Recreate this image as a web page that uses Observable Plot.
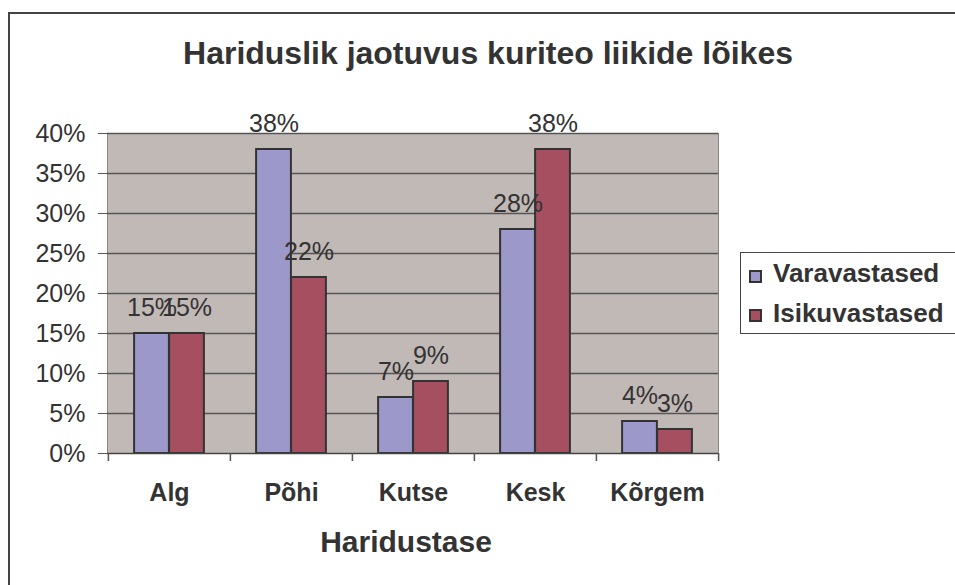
<!DOCTYPE html>
<html><head><meta charset="utf-8">
<script src="https://cdn.jsdelivr.net/npm/d3@7"></script>
<script src="https://cdn.jsdelivr.net/npm/@observablehq/plot@0.6"></script>
<style>
body{margin:0;background:#fff;font-family:"Liberation Sans",Arial,sans-serif;color:#333}
#wrap{position:relative;width:955px;height:585px;overflow:hidden}
#border{position:absolute;left:8px;top:12px;width:1000px;height:1000px;border:2px solid #444;box-sizing:border-box}
#title{position:absolute;left:0;top:37px;width:976px;text-align:center;font-weight:bold;font-size:32px;line-height:1}
#xlabel{position:absolute;left:0;top:527px;width:812px;text-align:center;font-weight:bold;font-size:30px;line-height:1}
#chart{position:absolute;left:0;top:0}
#legend{position:absolute;left:740px;top:252px;width:230px;height:82px;border:1px solid #444;box-sizing:border-box}
.sw{position:absolute;width:13px;height:13px;border:2px solid #333;box-sizing:border-box}
.lt{position:absolute;font-weight:bold;font-size:26px;line-height:1;white-space:nowrap}
</style></head>
<body>
<div id="wrap">
  <div id="border"></div>
  <div id="chart"></div>
  <div id="title">Hariduslik jaotuvus kuriteo liikide lõikes</div>
  <div id="xlabel">Haridustase</div>
  <div id="legend"></div>
</div>
<script>
const categories = ["Alg", "Põhi", "Kutse", "Kesk", "Kõrgem"];
const varavastased = [0.15, 0.38, 0.07, 0.28, 0.04];
const isikuvastased = [0.15, 0.22, 0.09, 0.38, 0.03];
const seriesNames = ["Varavastased", "Isikuvastased"];
const seriesColors = ["#9c98ca", "#a64f60"];
const yTicks = [0, 0.05, 0.10, 0.15, 0.20, 0.25, 0.30, 0.35, 0.40];

const fmt = d3.format(".0%");
const W = 955, H = 585, ML = 107, MR = 237, MT = 133, MB = 132;
const step = (W - ML - MR) / categories.length;
const barW = 35;

const dataV = categories.map((c, i) => ({cat: c, v: varavastased[i], s: seriesNames[0]}));
const dataI = categories.map((c, i) => ({cat: c, v: isikuvastased[i], s: seriesNames[1]}));

const plot = Plot.plot({
  width: W, height: H,
  marginLeft: ML, marginRight: MR, marginTop: MT, marginBottom: MB,
  style: {fontFamily: "'Liberation Sans', Arial, sans-serif", fontSize: "25px", color: "#333", background: "transparent", overflow: "visible"},
  x: {domain: categories, padding: 0, label: null},
  y: {domain: [0, 0.4], label: null},
  marks: [
    Plot.frame({fill: "#c1b9b6", stroke: "#8c8484"}),
    Plot.ruleY(yTicks.filter(t => t > 0), {stroke: "#555", strokeWidth: 1.5}),
    Plot.barY(dataV, {x: "cat", y: "v", fill: seriesColors[0], stroke: "#333", strokeWidth: 2,
      insetLeft: step / 2 - barW, insetRight: step / 2}),
    Plot.barY(dataI, {x: "cat", y: "v", fill: seriesColors[1], stroke: "#333", strokeWidth: 2,
      insetLeft: step / 2, insetRight: step / 2 - barW}),
    Plot.ruleY([0], {stroke: "#444", strokeWidth: 1.5}),
    Plot.ruleX(categories, {x: d => d, dx: -step / 2, y1: 0, y2: 0, insetBottom: -8, stroke: "#555", strokeWidth: 1.5}),
    Plot.ruleX([categories[categories.length - 1]], {x: d => d, dx: step / 2, y1: 0, y2: 0, insetBottom: -8, stroke: "#555", strokeWidth: 1.5}),
    Plot.axisY({ticks: yTicks, tickFormat: fmt, tickSize: 9, tickPadding: 13, stroke: "#555"}),
    Plot.axisX({tickSize: 0, tickPadding: 30, fontWeight: "bold"}),
    Plot.text(dataV, {x: "cat", y: "v", text: d => fmt(d.v), dx: -barW / 2, dy: -26, fill: "#333"}),
    Plot.text(dataI, {x: "cat", y: "v", text: d => fmt(d.v), dx: barW / 2, dy: -26, fill: "#333"})
  ]
});
document.getElementById("chart").appendChild(plot);

const legend = document.getElementById("legend");
seriesNames.forEach((name, i) => {
  const sw = document.createElement("div");
  sw.className = "sw";
  sw.style.left = "8px";
  sw.style.top = (17 + i * 39) + "px";
  sw.style.background = seriesColors[i];
  legend.appendChild(sw);
  const t = document.createElement("div");
  t.className = "lt";
  t.style.left = "32px";
  t.style.top = (7 + i * 40) + "px";
  t.textContent = name;
  legend.appendChild(t);
});
</script>
</body></html>
